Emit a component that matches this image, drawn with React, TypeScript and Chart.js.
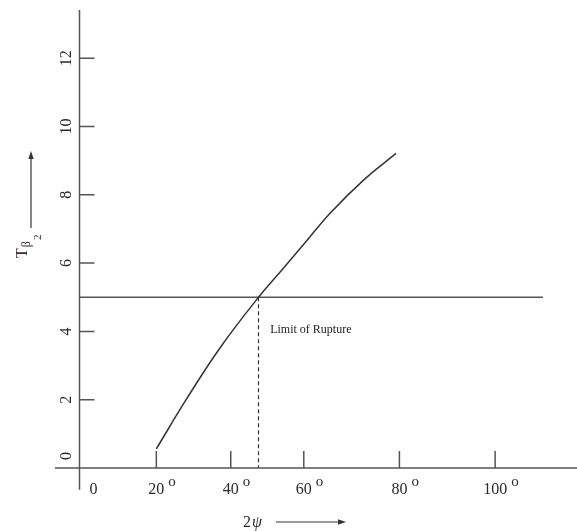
import React, { useEffect, useRef } from "react";
import { Chart, registerables, LinearScale } from "chart.js";

// ---- data ----
const curveX = [20, 28, 37, 47.6, 54.0, 60.3, 65.5, 72.5, 79.3];
const curveY = [0.56, 2.0, 3.5, 5.0, 5.8, 6.6, 7.46, 8.43, 9.21];
const ruptureLevel = 5;
const ruptureLineEnd = 110;
const ruptureAngle = 47.6;
const xTicks = [0, 20, 40, 60, 80, 100];
const yTicks = [0, 2, 4, 6, 8, 10, 12];
const xMax = 117.1;
const yMax = 13.41;
const xAxisStart = -6.4;
const yAxisStart = -0.64;
const annotationText = "Limit of Rupture";
const annotationAt = { x: 50.8, y: 3.95 };

// hand-drawn axis: relative lengths of each 20° interval
const xBreakValues = [0, 20, 40, 60, 80, 100];
const xIntervalLengths = [76.8, 74.4, 73.0, 95.6, 95.7];

class WarpedScale extends LinearScale {
  static id = "warped";
  static defaults = {};
  warp(v: number): number {
    const cum = [0];
    for (const l of xIntervalLengths) cum.push(cum[cum.length - 1] + l);
    const n = xBreakValues.length;
    if (v <= xBreakValues[0]) {
      const s = xIntervalLengths[0] / (xBreakValues[1] - xBreakValues[0]);
      return (v - xBreakValues[0]) * s;
    }
    for (let i = 0; i < n - 1; i++) {
      if (v <= xBreakValues[i + 1]) {
        const t = (v - xBreakValues[i]) / (xBreakValues[i + 1] - xBreakValues[i]);
        return cum[i] + t * xIntervalLengths[i];
      }
    }
    const s = xIntervalLengths[n - 2] / (xBreakValues[n - 1] - xBreakValues[n - 2]);
    return cum[n - 1] + (v - xBreakValues[n - 1]) * s;
  }
  unwarp(u: number): number {
    let lo = -1000, hi = 1000;
    for (let k = 0; k < 60; k++) {
      const mid = (lo + hi) / 2;
      if (this.warp(mid) < u) lo = mid; else hi = mid;
    }
    return (lo + hi) / 2;
  }
  getPixelForValue(value: number) {
    if (value === null || value === undefined) return NaN;
    const u0 = this.warp(this.min), u1 = this.warp(this.max);
    return this.getPixelForDecimal((this.warp(value) - u0) / (u1 - u0));
  }
  getValueForPixel(pixel: number) {
    const u0 = this.warp(this.min), u1 = this.warp(this.max);
    return this.unwarp(u0 + this.getDecimalForPixel(pixel) * (u1 - u0));
  }
}

Chart.register(...registerables, WarpedScale);

const SERIF = "'Liberation Serif', 'Times New Roman', serif";
const AXIS = "#555";
const INK = "#2a2a2a";

const decorPlugin = {
  id: "decor",
  afterDraw(chart: any) {
    const ctx = chart.ctx;
    const xs = chart.scales.x;
    const ys = chart.scales.y;
    const x0 = xs.getPixelForValue(0);
    const y0 = ys.getPixelForValue(0);
    ctx.save();
    // axis lines
    ctx.strokeStyle = AXIS;
    ctx.lineWidth = 1.5;
    ctx.beginPath();
    ctx.moveTo(xs.getPixelForValue(xAxisStart), y0);
    ctx.lineTo(xs.getPixelForValue(xMax), y0);
    ctx.moveTo(x0, ys.getPixelForValue(yAxisStart));
    ctx.lineTo(x0, ys.getPixelForValue(yMax));
    ctx.stroke();
    // tick marks (inside)
    ctx.beginPath();
    for (const t of xs.ticks) {
      if (t.value === 0) continue;
      const px = xs.getPixelForValue(t.value);
      ctx.moveTo(px, y0);
      ctx.lineTo(px, y0 - 17);
    }
    for (const t of ys.ticks) {
      if (t.value === 0) continue;
      const py = ys.getPixelForValue(t.value);
      ctx.moveTo(x0, py);
      ctx.lineTo(x0 + 15, py);
    }
    ctx.stroke();

    // degree superscripts on x labels
    ctx.fillStyle = INK;
    ctx.font = `16px ${SERIF}`;
    ctx.textBaseline = "middle";
    ctx.textAlign = "left";
    const labelCenterY = xs.top + 12 + 19.2 / 2;
    for (const t of xs.ticks) {
      if (t.value === 0) continue;
      const px = xs.getPixelForValue(t.value);
      const w = ctx.measureText(String(t.value)).width;
      ctx.font = `15px ${SERIF}`;
      ctx.fillText("o", px + w / 2 + 4, labelCenterY - 8);
      ctx.font = `16px ${SERIF}`;
    }

    // annotation
    ctx.font = `12px ${SERIF}`;
    ctx.textBaseline = "alphabetic";
    ctx.fillStyle = "#222";
    ctx.fillText(annotationText, xs.getPixelForValue(annotationAt.x), ys.getPixelForValue(annotationAt.y));

    // x title: 2ψ with arrow
    ctx.fillStyle = INK;
    ctx.textBaseline = "alphabetic";
    ctx.font = `16px ${SERIF}`;
    const tx = 243, ty = 527;
    ctx.fillText("2", tx, ty);
    const w2 = ctx.measureText("2").width;
    ctx.font = `italic 16px ${SERIF}`;
    ctx.fillText("ψ", tx + w2 + 1, ty);
    ctx.strokeStyle = "#333";
    ctx.lineWidth = 1.2;
    ctx.beginPath();
    ctx.moveTo(276, 522);
    ctx.lineTo(342, 522);
    ctx.stroke();
    ctx.fillStyle = "#333";
    ctx.beginPath();
    ctx.moveTo(346, 522);
    ctx.lineTo(338, 519.3);
    ctx.lineTo(338, 524.7);
    ctx.closePath();
    ctx.fill();

    // y title: T_β_2 rotated, with arrow
    ctx.save();
    ctx.translate(27, 258);
    ctx.rotate(-Math.PI / 2);
    ctx.fillStyle = "#3a2a2a";
    ctx.font = `16px ${SERIF}`;
    ctx.fillText("T", 0, 0);
    const wT = ctx.measureText("T").width;
    ctx.font = `12px ${SERIF}`;
    ctx.fillText("β", wT + 1, 3);
    const wB = ctx.measureText("β").width;
    ctx.font = `11px ${SERIF}`;
    ctx.fillText("2", wT + wB + 2, 14);
    ctx.restore();
    ctx.strokeStyle = "#333";
    ctx.lineWidth = 1.2;
    ctx.beginPath();
    ctx.moveTo(31, 228);
    ctx.lineTo(31, 156);
    ctx.stroke();
    ctx.fillStyle = "#333";
    ctx.beginPath();
    ctx.moveTo(31, 151);
    ctx.lineTo(28.3, 159);
    ctx.lineTo(33.7, 159);
    ctx.closePath();
    ctx.fill();
    ctx.restore();
  },
};

export default function App() {
  const ref = useRef<HTMLCanvasElement | null>(null);
  useEffect(() => {
    if (!ref.current) return;
    const chart = new Chart(ref.current, {
      type: "line",
      data: {
        datasets: [
          {
            data: curveX.map((x, i) => ({ x, y: curveY[i] })),
            borderColor: "#333",
            borderWidth: 1.5,
            pointRadius: 0,
            tension: 0.4,
            fill: false,
          },
          {
            data: [
              { x: 0, y: ruptureLevel },
              { x: ruptureLineEnd, y: ruptureLevel },
            ],
            borderColor: AXIS,
            borderWidth: 1.5,
            pointRadius: 0,
            fill: false,
          },
          {
            data: [
              { x: ruptureAngle, y: ruptureLevel },
              { x: ruptureAngle, y: 0 },
            ],
            borderColor: "#333",
            borderWidth: 1.2,
            borderDash: [4, 3],
            pointRadius: 0,
            fill: false,
          },
        ],
      },
      options: {
        animation: false,
        responsive: false,
        layout: { padding: { top: 10, right: 0, bottom: 0, left: 0 } },
        plugins: { legend: { display: false }, tooltip: { enabled: false } },
        scales: {
          x: {
            type: "warped" as any,
            min: 0,
            max: xMax,
            grid: { display: false, drawTicks: false },
            border: { display: false },
            afterBuildTicks: (s: any) => {
              s.ticks = xTicks.map((v) => ({ value: v }));
            },
            afterFit: (s: any) => {
              s.height = 63;
            },
            ticks: {
              padding: 12,
              maxRotation: 0,
              minRotation: 0,
              color: INK,
              font: { family: SERIF, size: 16 },
              callback: (v: any) => (Number(v) === 0 ? "       0" : String(v)),
            },
          },
          y: {
            type: "linear",
            min: 0,
            max: yMax,
            grid: { display: false, drawTicks: false },
            border: { display: false },
            afterBuildTicks: (s: any) => {
              s.ticks = yTicks.map((v) => ({ value: v }));
            },
            afterFit: (s: any) => {
              s.width = 79.5;
            },
            ticks: {
              padding: -3.5,
              minRotation: 90,
              maxRotation: 90,
              crossAlign: "center",
              color: INK,
              font: { family: SERIF, size: 16 },
              callback: (v: any) => (Number(v) === 0 ? "      0" : String(v)),
            },
          },
        },
      },
      plugins: [decorPlugin],
    });
    return () => chart.destroy();
  }, []);
  return (
    <canvas
      ref={ref}
      width={577}
      height={531}
      style={{ position: "absolute", left: 0, top: 0, display: "block", background: "#fff" }}
    />
  );
}
